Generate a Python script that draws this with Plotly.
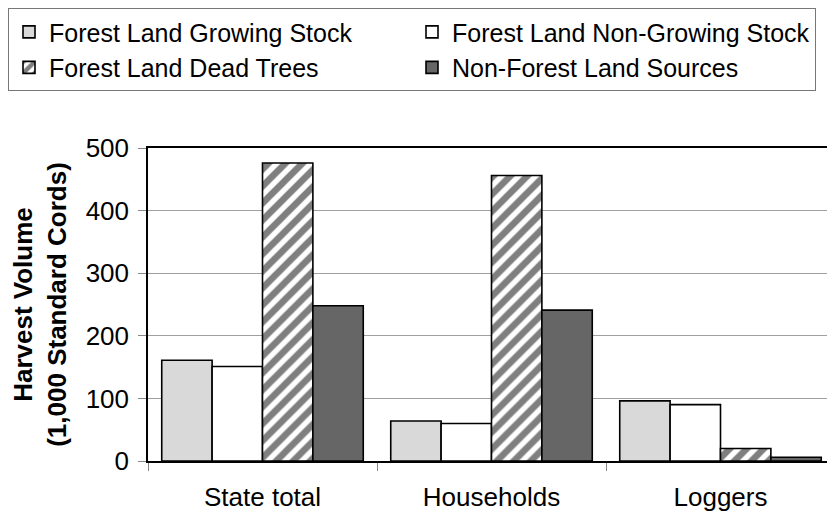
import plotly.graph_objects as go

# categories and series (1,000 standard cords)
categories = ["State total", "Households", "Loggers"]
growing_stock = [161, 64, 96]
non_growing_stock = [151, 60, 90]
dead_trees = [476, 456, 20]
non_forest = [248, 241, 6]

FONT = "Arial, Liberation Sans, sans-serif"
outline = dict(color="black", width=1.6)

fig = go.Figure()

fig.add_trace(go.Bar(
    x=categories, y=growing_stock, name="Forest Land Growing Stock",
    marker=dict(color="#d9d9d9", line=outline),
))
fig.add_trace(go.Bar(
    x=categories, y=non_growing_stock, name="Forest Land Non-Growing Stock",
    marker=dict(color="white", line=outline),
))
fig.add_trace(go.Bar(
    x=categories, y=dead_trees, name="Forest Land Dead Trees",
    marker=dict(
        color="white", line=outline,
        pattern=dict(shape="/", fgcolor="black", bgcolor="white", size=12, solidity=0.55),
    ),
))
fig.add_trace(go.Bar(
    x=categories, y=non_forest, name="Non-Forest Land Sources",
    marker=dict(color="#666666", line=outline),
))

# the page puts the figure ~8px in from the top-left corner, so the
# figure is a little smaller than the window
fig.update_layout(
    width=827,
    height=511,
    margin=dict(l=140, r=0, t=140, b=58),
    paper_bgcolor="white",
    plot_bgcolor="white",
    font=dict(family=FONT, size=26, color="black"),
    barmode="group",
    bargap=0.12,
    bargroupgap=0,
    showlegend=True,
    legend=dict(
        orientation="h",
        x=-0.204, xanchor="left",
        y=1.447, yanchor="top",
        entrywidth=358, entrywidthmode="pixels",
        bordercolor="#777777", borderwidth=1,
        font=dict(family=FONT, size=25),
        itemwidth=30,
        traceorder="normal",
    ),
    xaxis=dict(
        showline=True, linecolor="black", linewidth=1.5, mirror=True,
        ticks="outside", tickson="boundaries", ticklen=8, tickcolor="#888888",
        ticklabelstandoff=12,
        showgrid=False,
    ),
    yaxis=dict(
        range=[0, 500], dtick=100,
        showline=True, linecolor="black", linewidth=1.5,
        ticks="outside", ticklen=8, tickcolor="#888888",
        ticklabelstandoff=4,
        showgrid=True, gridcolor="#a0a0a0", gridwidth=1,
        zeroline=False,
        title=dict(
            text="<b>Harvest Volume<br>(1,000 Standard Cords)</b>",
            font=dict(family=FONT, size=26),
            standoff=14,
        ),
    ),
)

fig.write_html("out.html")
